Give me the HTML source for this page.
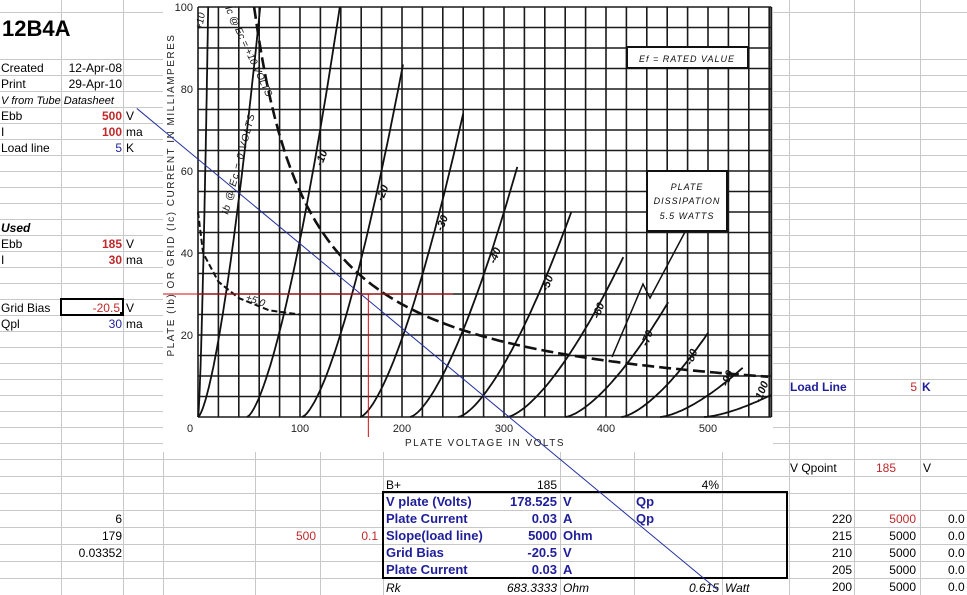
<!DOCTYPE html>
<html><head><meta charset="utf-8">
<style>
html,body{margin:0;padding:0;background:#fff;}
svg{display:block;font-family:"Liberation Sans",Arial,sans-serif;}
</style></head>
<body>
<svg id="s" width="967" height="595" viewBox="0 0 967 595" xmlns="http://www.w3.org/2000/svg">
<g id="grid"></g>
<g id="cells" font-size="12"></g>
<g id="chart"></g>
</svg>
<script>
// ---- chart data ----
const biases   = ["+10","0","-10","-20","-30","-40","-50","-60","-70","-80","-90","-100"];
const startV   = [0, 0, 48, 102, 159, 208, 255, 303, 360, 415, 453, 496];
const endV     = [10, 61, 139, 201, 260, 313, 366, 417, 461, 500, 534, 562];
const endI     = [100, 100, 100, 86, 74, 61, 50, 39, 28, 20.5, 12, 5.4];
const xTicks   = [0, 100, 200, 300, 400, 500];
const yTicks   = [20, 40, 60, 80, 100];
const dissipationW = 5.5;
const gridV    = [0, 5, 20, 40, 70, 100];
const gridI    = [50, 40, 33, 29, 26, 25];
const loadV0   = 305;   // volts at zero current
const loadR    = 4.85;  // kOhm
const qV = 167, qI = 30;

const NS="http://www.w3.org/2000/svg";
const X = v => 198 + 1.02*v;
const Y = i => 417 - 4.1*i;
function mk(parent,tag,attrs,text){const e=document.createElementNS(NS,tag);for(const k in attrs)e.setAttribute(k,attrs[k]);if(text!==undefined)e.textContent=text;parent.appendChild(e);return e;}

// ---- spreadsheet grid ----
const G=document.getElementById('grid');
const cols=[61,123,163,255,320,383,560,634,722,789,854,920];
const rows=[];
for(let y=59;y<=459;y+=16)rows.push(y);
for(let y=476;y<=595;y+=17)rows.push(y);
rows.unshift(12);
cols.forEach(c=>{const l=mk(G,'line',{x1:c+.5,y1:0,x2:c+.5,y2:595,stroke:'#c8c8c8'});});
rows.forEach(r=>{const l=mk(G,'line',{x1:0,y1:r+.5,x2:967,y2:r+.5,stroke:'#c8c8c8'});});

// ---- cells ----
const C=document.getElementById('cells');
const red='#c0282a', blue='#1e1e9a';
function t(x,y,s,o){o=o||{};const e=mk(C,'text',{x:x,y:y,fill:o.c||'#000','text-anchor':o.a||'start','font-weight':o.b?'bold':'normal','font-style':o.i?'italic':'normal','font-size':o.s||12},s);return e;}
t(2,36,"12B4A",{s:22,b:1,n:'tube-title'});
t(1,72,"Created",{n:'created-label'});t(122,72,"12-Apr-08",{a:'end',n:'created-date'});
t(1,88,"Print",{n:'print-label'});t(122,88,"29-Apr-10",{a:'end',n:'print-date'});
t(1,104,"V from Tube Datasheet",{i:1,s:11,n:'datasheet-heading'});
t(1,120,"Ebb");t(122,120,"500",{a:'end',c:red,b:1,n:'ebb-datasheet'});t(126,120,"V");
t(1,136,"I");t(122,136,"100",{a:'end',c:red,b:1,n:'i-datasheet'});t(126,136,"ma");
t(1,152,"Load line");t(122,152,"5",{a:'end',c:blue,n:'load-line-value'});t(126,152,"K");
t(1,232,"Used",{b:1,i:1,n:'used-heading'});
t(1,248,"Ebb");t(122,248,"185",{a:'end',c:red,b:1,n:'ebb-used'});t(126,248,"V");
t(1,264,"I");t(122,264,"30",{a:'end',c:red,b:1,n:'i-used'});t(126,264,"ma");
t(1,312,"Grid Bias");
const gb=mk(C,'rect',{x:61,y:299,width:62,height:16,fill:'none',stroke:'#000','stroke-width':2});
mk(C,'rect',{x:120,y:312,width:4,height:4,fill:'#000'});
t(120,312,"-20.5",{a:'end',c:red,n:'grid-bias-value'});t(126,312,"V");
t(1,328,"Qpl");t(122,328,"30",{a:'end',c:blue,n:'qpl-value'});t(126,328,"ma");
t(790,391,"Load Line",{b:1,c:blue,n:'load-line-label'});t(917,391,"5",{a:'end',c:red,n:'load-line-k'});t(922,391,"K",{b:1,c:blue});
t(790,472,"V Qpoint",{n:'v-qpoint-label'});t(886,472,"185",{a:'middle',c:red,n:'v-qpoint-value'});t(923,472,"V");
t(386,489,"B+");t(557,489,"185",{a:'end',n:'bplus-value'});t(719,489,"4%",{a:'end'});
const bl=[["V plate (Volts)","178.525","V"],["Plate Current","0.03","A"],["Slope(load line)","5000","Ohm"],["Grid Bias","-20.5","V"],["Plate Current","0.03","A"]];
bl.forEach((r,k)=>{const y=506+17*k;t(386,y,r[0],{b:1,c:blue,s:13});t(557,y,r[1],{a:'end',b:1,c:blue,s:13});t(563,y,r[2],{b:1,c:blue,s:13});});
t(636,506,"Qp",{b:1,c:blue,s:13});t(636,523,"Qp",{b:1,c:blue,s:13});
const box=mk(C,'rect',{x:383,y:492,width:404,height:86,fill:'none',stroke:'#000','stroke-width':2});
t(386,592,"Rk",{i:1});t(557,592,"683.3333",{a:'end',i:1});t(563,592,"Ohm",{i:1});t(719,592,"0.615",{a:'end',i:1});t(725,592,"Watt",{i:1});
t(122,523,"6",{a:'end'});t(122,540,"179",{a:'end'});t(122,557,"0.03352",{a:'end'});
t(316,540,"500",{a:'end',c:red});t(378,540,"0.1",{a:'end',c:red});
[["220","5000",1],["215","5000",0],["210","5000",0],["205","5000",0],["200","5000",0]].forEach((r,k)=>{const y=523+17*k;t(852,y,r[0],{a:'end'});t(916,y,r[1],{a:'end',c:r[2]?red:'#000'});t(948,y,"0.0");});

// ---- chart ----
const H=document.getElementById('chart');
const bg=mk(H,'rect',{x:163,y:0,width:610,height:452,fill:'#fff'});
const gg=mk(H,'g',{stroke:'#1a1a1a','stroke-width':1.6});
for(let v=0;v<=560;v+=20)mk(gg,'line',{x1:X(v),y1:Y(100),x2:X(v),y2:Y(0)});
mk(gg,'line',{x1:X(562),y1:Y(100),x2:X(562),y2:Y(0),'stroke-width':2});
for(let i=0;i<=100;i+=5)mk(gg,'line',{x1:X(0),y1:Y(i),x2:X(562),y2:Y(i)});
xTicks.forEach(v=>{const e=mk(H,'text',{x:X(v)-(v===0?8:0),y:432,'text-anchor':'middle','font-size':11,fill:'#222'},String(v));});
yTicks.forEach(i=>{const e=mk(H,'text',{x:193,y:Y(i)+4,'text-anchor':'end','font-size':11,fill:'#222'},String(i));});
const xt=mk(H,'text',{x:485,y:446,'text-anchor':'middle','font-size':10,'letter-spacing':1.5,fill:'#222'},"PLATE VOLTAGE IN VOLTS");
const yt=mk(H,'text',{x:174,y:195,'text-anchor':'middle','font-size':10,'letter-spacing':1.5,fill:'#222',transform:'rotate(-90 174 195)'},"PLATE (Ib) OR GRID (Ic) CURRENT IN MILLIAMPERES");

// plate curves
biases.forEach((b,k)=>{
  let d='';
  for(let s=0;s<=40;s++){const f=s/40;const v=startV[k]+(endV[k]-startV[k])*f;const i=endI[k]*Math.pow(f,1.5);d+=(s?'L':'M')+X(v).toFixed(1)+' '+Y(i).toFixed(1);}
  const p=mk(H,'path',{d:d,fill:'none',stroke:'#111','stroke-width':1.8});
  
  
  if(k>=2){const f=0.72;const v=startV[k]+(endV[k]-startV[k])*f;const i=endI[k]*Math.pow(f,1.5);
    const lx=X(v)+8, ly=Y(i);
    const lb=mk(H,'text',{x:lx,y:ly,'font-size':11,'font-style':'italic','font-weight':'bold',fill:'#111',transform:`rotate(-68 ${lx} ${ly})`},b);
    
    }
});
const l0=mk(H,'text',{x:228,y:215,'font-size':10,'font-style':'italic','letter-spacing':1,fill:'#111',transform:'rotate(-75 228 215)'},"Ib @ Ec = 0 VOLTS");
const l10=mk(H,'text',{x:202,y:30,'font-size':10,'font-style':'italic',fill:'#111',transform:'rotate(-80 202 30)'},"+10");
const l15=mk(H,'text',{x:225,y:8,'font-size':10,'font-style':'italic',fill:'#111',transform:'rotate(65 225 8)'},"Ic @ Ec = +10 VOLTS");

// dissipation curve
let dd='';
for(let v=55;v<=562;v+=4){const i=dissipationW*1000/v;dd+=(v===55?'M':'L')+X(v).toFixed(1)+' '+Y(i).toFixed(1);}
const dp=mk(H,'path',{d:dd,fill:'none',stroke:'#111','stroke-width':2.6,'stroke-dasharray':'12 5'});
// grid current curve
let gd='';gridV.forEach((v,k)=>{gd+=(k?'L':'M')+X(v)+' '+Y(gridI[k]);});
const gp=mk(H,'path',{d:gd,fill:'none',stroke:'#111','stroke-width':2,'stroke-dasharray':'6 3'});
const l5=mk(H,'text',{x:245,y:300,'font-size':10,'font-style':'italic',fill:'#111',transform:'rotate(20 245 300)'},"+5.0");

// annotation boxes
const ab=mk(H,'rect',{x:627,y:47,width:121,height:21,fill:'#fff',stroke:'#111','stroke-width':2});
mk(H,'text',{x:687,y:62,'text-anchor':'middle','font-size':9,'font-style':'italic','letter-spacing':1,fill:'#111'},"Ef = RATED VALUE");
const pb=mk(H,'rect',{x:647,y:171,width:80,height:60,fill:'#fff',stroke:'#111','stroke-width':2});
mk(H,'text',{x:687,y:190,'text-anchor':'middle','font-size':9,'font-style':'italic','letter-spacing':1,fill:'#111'},"PLATE");
mk(H,'text',{x:687,y:204,'text-anchor':'middle','font-size':9,'font-style':'italic','letter-spacing':1,fill:'#111'},"DISSIPATION");
mk(H,'text',{x:687,y:219,'text-anchor':'middle','font-size':9,'font-style':'italic','letter-spacing':1,fill:'#111'},"5.5 WATTS");
mk(H,'path',{d:'M685 232 L650 298 L643 284 L612 357',fill:'none',stroke:'#111','stroke-width':1.5});

// load line & Q point markers
const va=-60, vb=510;
const ll=mk(H,'line',{x1:X(va),y1:Y((loadV0-va)/loadR),x2:X(vb),y2:Y((loadV0-vb)/loadR),stroke:'#2230a0','stroke-width':1});
const rh=mk(H,'line',{x1:163,y1:Y(qI),x2:X(250),y2:Y(qI),stroke:'#d01010','stroke-width':1});
const rv=mk(H,'line',{x1:X(qV),y1:Y(qI),x2:X(qV),y2:437,stroke:'#d01010','stroke-width':1});
</script>
</body></html>
